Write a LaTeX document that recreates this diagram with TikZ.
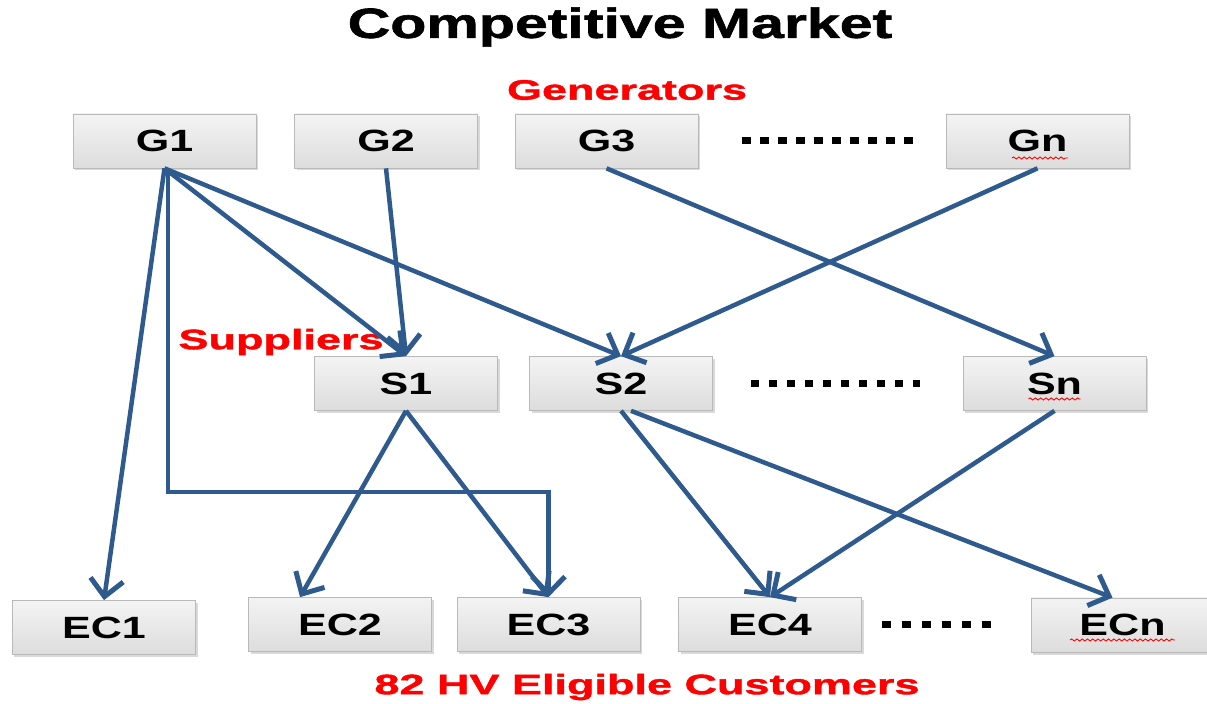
\documentclass[tikz,border=0pt]{standalone}
\usepackage{fontspec}
\setmainfont{Liberation Sans}
\newfontfamily\boxfont[FakeStretch=1.4]{Liberation Sans}
\newfontfamily\titlefont[FakeStretch=1.4,FakeBold=1.5]{Liberation Sans}
\newfontfamily\labelfont[FakeStretch=1.6,FakeBold=1.5]{Liberation Sans}
\usepackage{xcolor}
\usepackage{tikz}
\usetikzlibrary{shapes,arrows.meta,positioning,calc,shadows,decorations.pathmorphing}

\definecolor{flow}{HTML}{2F5A8E}

\begin{document}
\begin{tikzpicture}[
    box/.style={rectangle, draw=gray!55, top color=gray!9, bottom color=gray!27, minimum width=3.66cm, minimum height=1.08cm, inner sep=0pt,
        font=\fontsize{17.5}{20}\selectfont\boxfont\bfseries, drop shadow={shadow xshift=0.04cm, shadow yshift=-0.05cm, opacity=0.3}},
    arrow/.style={-{Straight Barb[length=0.34cm,width=0.66cm,line width=0.1cm]}, line width=0.09cm, draw=flow},
    dots/.style={line width=0.14cm, dash pattern=on 0.17cm off 0.19cm},
    label/.style={text=red, font=\fontsize{16}{18}\selectfont\labelfont\bfseries},
    squiggle/.style={draw=red, line width=0.5pt, decorate, decoration={snake, amplitude=0.6pt, segment length=3pt}}
]
\useasboundingbox (0,0) rectangle (24.14,14.06);

% Title
\node[font=\fontsize{24}{28}\selectfont\titlefont\bfseries] (title) at (12.4,13.52) {Competitive Market};

% Generators
\node[label] (genlabel) at (12.54,12.26) {Generators};
\node[box] (G1) at (3.29,11.24) {G1};
\node[box] (G2) at (7.72,11.24) {G2};
\node[box] (G3) at (12.13,11.24) {G3};
\node[box] (Gn) at (20.75,11.24) {Gn};

\draw[dots] ([xshift=0.88cm]G3.east) -- ([xshift=-0.66cm]Gn.west);

% Suppliers
\node[label] (suplabel) at (5.62,7.22) {Suppliers};
\node[box] (S1) at (8.12,6.39) {S1};
\node[box] (S2) at (12.42,6.39) {S2};
\node[box] (Sn) at (21.09,6.39) {Sn};

\draw[dots] ([xshift=0.76cm]S2.east) -- ([xshift=-0.86cm]Sn.west);

% Eligible customers
\node[box] (EC1) at (2.08,1.51) {EC1};
\node[box] (EC2) at (6.8,1.57) {EC2};
\node[box] (EC3) at (10.97,1.57) {EC3};
\node[box] (EC4) at (15.4,1.57) {EC4};
\node[box] (ECn) at (22.45,1.56) {ECn};
\node[label] (custlabel) at (12.94,0.32) {82 HV Eligible Customers};

\draw[dots, dash pattern=on 0.19cm off 0.21cm] ([xshift=0.4cm]EC4.east) -- ([xshift=2.59cm]EC4.east);

% spell-check marks
\draw[squiggle] ([xshift=-0.51cm,yshift=-0.34cm]Gn.center) -- ([xshift=0.61cm,yshift=-0.34cm]Gn.center);
\draw[squiggle] ([xshift=-0.52cm,yshift=-0.31cm]Sn.center) -- ([xshift=0.52cm,yshift=-0.31cm]Sn.center);
\draw[squiggle] ([xshift=-1.05cm,yshift=-0.3cm]ECn.center) -- ([xshift=1.05cm,yshift=-0.3cm]ECn.center);

% Generators -> suppliers / customers
\draw[arrow] (G1.south) -- (EC1.north);
\draw[arrow] (G1.south) -- (S1.north);
\draw[arrow] (G1.south) -- (S2.north);
\draw[arrow] ([xshift=0.07cm]G1.south) |- ([yshift=2.1cm]EC3.north) -- (EC3.north);
\draw[arrow] (G2.south) -- (S1.north);
\draw[arrow] (G3.south) -- (Sn.north);
\draw[arrow] (Gn.south) -- (S2.north);

% Suppliers -> customers
\draw[arrow] (S1.south) -- ([xshift=-0.8cm]EC2.north);
\draw[arrow] (S1.south) -- (EC3.north);
\draw[arrow] (S2.south) -- (EC4.north);
\draw[arrow] ([xshift=0.2cm]S2.south) -- ([xshift=-0.2cm]ECn.north);
\draw[arrow] (Sn.south) -- (EC4.north);

\end{tikzpicture}
\end{document}
